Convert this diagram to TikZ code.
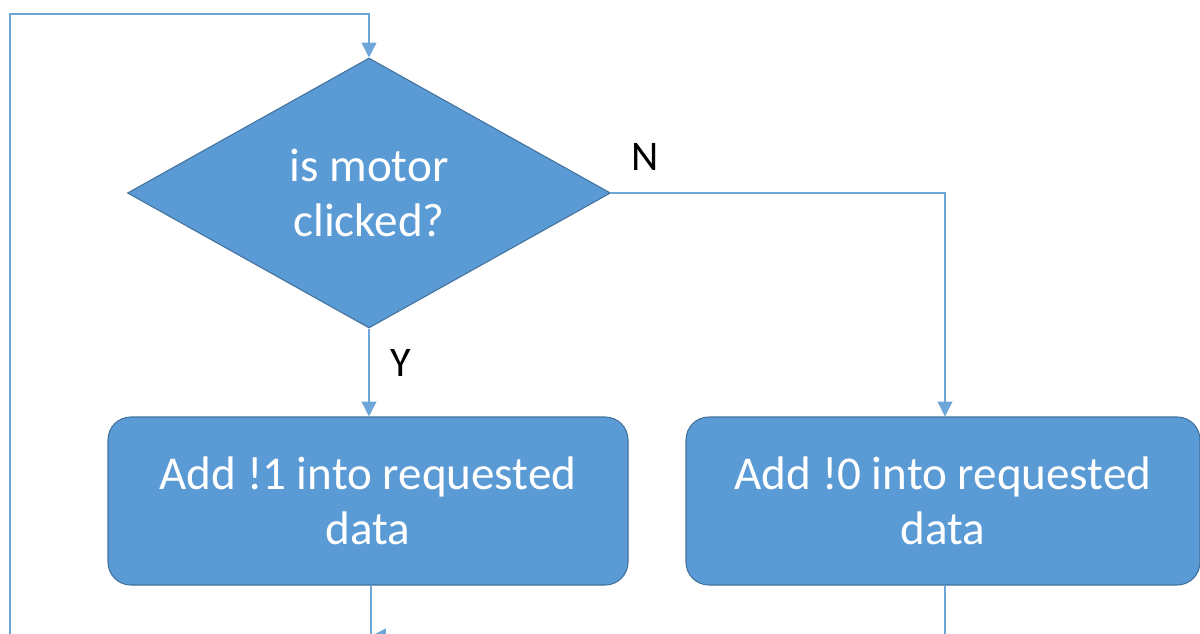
\documentclass[tikz,border=0pt]{standalone}
\usepackage{fontspec}
\setmainfont{Carlito}
\usetikzlibrary{shapes.geometric,arrows.meta,calc}
\definecolor{fillblue}{HTML}{5B9BD5}
\definecolor{edgeblue}{HTML}{41719C}
\definecolor{lineblue}{HTML}{6FA6DA}
\begin{document}
\begin{tikzpicture}[x=0.02cm,y=-0.02cm,
  decision/.style={diamond,draw=edgeblue,line width=0.6pt,fill=fillblue,
    text=white,minimum width=483*0.02cm,minimum height=270*0.02cm,inner sep=0pt,
    align=center,font=\fontsize{26.8}{31.5}\selectfont},
  process/.style={rectangle,rounded corners=13pt,draw=edgeblue,line width=0.6pt,
    fill=fillblue,text=white,inner sep=0pt,align=center,
    font=\fontsize{26.8}{31.5}\selectfont},
  flow/.style={draw=lineblue,line width=0.8pt},
  arrow/.style={flow,-{Triangle[length=8.5pt,width=8.5pt]}},
  branchlabel/.style={font=\fontsize{24}{28}\selectfont,text=black}]
\useasboundingbox (0,0) rectangle (1200,633);
\clip (0,0) rectangle (1200,633);

% decision and the two actions
\node[decision] (dec) at (369,193) {is motor\\clicked?};
\node[process,minimum width=520*0.02cm,minimum height=168*0.02cm] (add1) at (368,501)
  {Add !1 into requested\\data};
\node[process,minimum width=514*0.02cm,minimum height=168*0.02cm] (add0) at (943,501)
  {Add !0 into requested\\data};

% helper points for the loop below and left of the picture
\coordinate (loopL) at (10,660);
\coordinate (topL) at (10,14);
\coordinate (topC) at (369,14);
\coordinate (joinR) at (945,636);
\coordinate (joinL) at (371,636);

% branches
\draw[arrow] (dec.south) -- (dec.south |- add1.north);
\node[branchlabel] (ylab) at (401,363) {Y};
\draw[arrow] (dec.east) -- (945,193) -- (945,0 |- add0.north);
\node[branchlabel] (nlab) at (645,157) {N};

% return paths
\draw[flow] (add1.south -| joinL) -- (371,660);
\draw[arrow] (add0.south -| joinR) -- (joinR) -- (joinL);
\draw[arrow] (loopL) -- (topL) -- (topC) -- (dec.north);
\end{tikzpicture}
\end{document}
